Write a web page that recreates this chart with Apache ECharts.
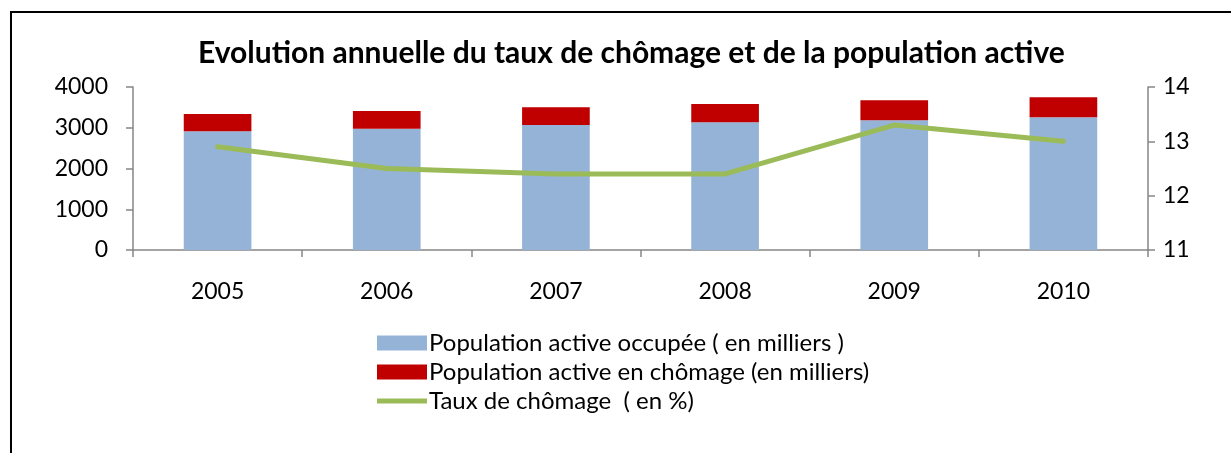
<!DOCTYPE html>
<html>
<head>
<meta charset="utf-8">
<script src="https://cdn.jsdelivr.net/npm/echarts@6/dist/echarts.min.js"></script>
<style>
  html, body { margin: 0; padding: 0; background: #fff; }
  #chart { width: 1231px; height: 453px; }
  .frame { position: absolute; left: 10px; top: 11px; right: 0; bottom: 0;
           border-left: 2px solid #000; border-top: 2px solid #000; pointer-events: none; }
</style>
</head>
<body>
<div id="chart"></div>
<div class="frame"></div>
<script>
// années
const years = ['2005', '2006', '2007', '2008', '2009', '2010'];
// population active occupée (milliers)
const occupee = [2913, 2977, 3067, 3134, 3183, 3256];
// population active en chômage (milliers)
const chomage = [424, 434, 435, 449, 490, 491];
// taux de chômage (%)
const taux = [12.9, 12.5, 12.4, 12.4, 13.3, 13.0];

const FONT = 'Lato';
const axisGray = '#868686';

let myChart = echarts.init(document.getElementById('chart'));
let option = {
    animation: false,
    textStyle: { fontFamily: FONT, color: '#000' },
    title: {
        text: 'Evolution annuelle du taux de chômage et de la population active',
        left: 193,
        top: 33,
        textStyle: { fontFamily: FONT, fontWeight: 'bold', fontSize: 30, color: '#000' }
    },
    legend: {
        orient: 'vertical',
        left: 372,
        top: 326,
        itemWidth: 50,
        itemHeight: 15,
        itemGap: 5,
        textStyle: { fontFamily: FONT, fontSize: 24, color: '#000', padding: [0, 0, 0, -3] },
        data: [
            { name: 'Population active occupée ( en milliers )', icon: 'rect' },
            { name: 'Population active en chômage (en milliers)', icon: 'rect' },
            { name: 'Taux de chômage  ( en %)', icon: 'path://M0,0L52,0L52,5L0,5Z' }
        ]
    },
    grid: { left: 133, right: 83, top: 87, bottom: 203 },
    xAxis: [{
        type: 'category',
        data: years,
        axisLine: { lineStyle: { color: axisGray, width: 1.5 } },
        axisTick: { show: true, length: 7, lineStyle: { color: axisGray, width: 1.5 } },
        axisLabel: { fontFamily: FONT, fontSize: 23, color: '#000', margin: 30 }
    }],
    yAxis: [
        {
            type: 'value',
            min: 0, max: 4000, interval: 1000,
            splitLine: { show: false },
            axisLine: { show: true, lineStyle: { color: axisGray, width: 1.5 } },
            axisTick: { show: true, length: 7, lineStyle: { color: axisGray, width: 1.5 } },
            axisLabel: { fontFamily: FONT, fontSize: 23, color: '#000', margin: 25, formatter: v => String(v) }
        },
        {
            type: 'value',
            min: 11, max: 14, interval: 1,
            position: 'right',
            splitLine: { show: false },
            axisLine: { show: true, lineStyle: { color: axisGray, width: 1.5 } },
            axisTick: { show: true, length: 7, lineStyle: { color: axisGray, width: 1.5 } },
            axisLabel: { fontFamily: FONT, fontSize: 23, color: '#000', margin: 15 }
        }
    ],
    series: [
        {
            name: 'Population active occupée ( en milliers )',
            type: 'bar',
            stack: 'pop',
            barWidth: '40%',
            itemStyle: { color: '#95B3D7' },
            data: occupee
        },
        {
            name: 'Population active en chômage (en milliers)',
            type: 'bar',
            stack: 'pop',
            barWidth: '40%',
            itemStyle: { color: '#C00000' },
            data: chomage
        },
        {
            name: 'Taux de chômage  ( en %)',
            type: 'line',
            yAxisIndex: 1,
            symbol: 'none',
            lineStyle: { color: '#9BBB59', width: 5, cap: 'round' },
            itemStyle: { color: '#9BBB59' },
            data: taux
        }
    ]
};
myChart.setOption(option);
</script>
</body>
</html>
